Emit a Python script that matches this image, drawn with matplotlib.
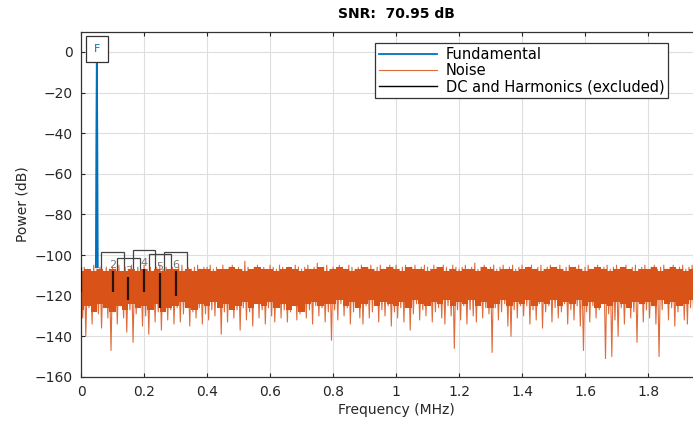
import numpy as np
import matplotlib
matplotlib.use("Agg")
import matplotlib.pyplot as plt

# noise spectrum, one value every 0.005 MHz (rows = 0.1 MHz)
noise_db = [
    -108, -131, -106, -140, -107, -126, -108, -134, -105, -124, -107, -129, -106, -136, -108, -123, -106, -131, -107, -147,
    -106, -128, -107, -134, -105, -125, -108, -131, -106, -138, -107, -127, -105, -143, -108, -129, -106, -124, -107, -135,
    -105, -130, -107, -139, -106, -126, -108, -133, -106, -128, -105, -137, -107, -125, -106, -132, -108, -127, -106, -134,
    -107, -126, -106, -133, -105, -129, -108, -124, -106, -135, -107, -128, -106, -131, -105, -126, -107, -134, -106, -129,
    -106, -132, -105, -127, -107, -130, -106, -124, -108, -139, -105, -128, -107, -133, -106, -125, -105, -131, -107, -127,
    -106, -137, -107, -126, -103, -132, -106, -128, -108, -135, -106, -124, -105, -131, -107, -127, -106, -134, -107, -126,
    -105, -130, -106, -133, -107, -125, -105, -131, -106, -127, -107, -133, -106, -128, -108, -124, -105, -132, -106, -129,
    -107, -124, -106, -131, -105, -127, -107, -134, -106, -125, -104, -130, -107, -126, -106, -133, -105, -128, -107, -142,
    -106, -127, -107, -132, -105, -124, -106, -130, -107, -126, -105, -134, -106, -128, -107, -125, -106, -131, -105, -134,
    -107, -125, -106, -131, -105, -128, -107, -124, -106, -133, -105, -127, -107, -130, -106, -125, -105, -135, -106, -128,
    -105, -131, -107, -126, -106, -133, -105, -125, -107, -137, -106, -129, -105, -124, -107, -132, -106, -127, -105, -130,
    -106, -124, -107, -133, -105, -128, -106, -126, -107, -131, -105, -134, -106, -125, -107, -130, -105, -146, -106, -127,
    -107, -132, -106, -125, -105, -134, -107, -127, -106, -130, -104, -133, -107, -124, -106, -131, -105, -126, -107, -129,
    -106, -148, -105, -126, -107, -132, -106, -128, -105, -124, -107, -135, -106, -140, -105, -127, -107, -131, -106, -125,
    -105, -130, -107, -125, -106, -134, -105, -127, -107, -132, -106, -124, -105, -136, -107, -128, -106, -125, -105, -133,
    -107, -126, -106, -131, -105, -128, -107, -124, -106, -134, -105, -127, -107, -132, -106, -125, -105, -135, -107, -147,
    -106, -128, -105, -133, -107, -125, -106, -131, -105, -127, -107, -124, -106, -151, -105, -129, -107, -150, -106, -132,
    -105, -140, -107, -126, -106, -134, -105, -125, -107, -131, -106, -128, -105, -143, -107, -124, -106, -133, -105, -127,
    -107, -131, -106, -125, -105, -134, -107, -150, -106, -127, -105, -124, -107, -132, -106, -126, -105, -135, -107, -128,
    -106, -125, -105, -132, -107, -134, -106, -126, -105, -131, -107, -124, -106, -133, -105, -127, -107, -130, -106, -128,
    -107,
]
noise_freq = np.arange(len(noise_db)) * 0.005

# solid core of the noise floor, every 0.02 MHz
band_top = [
    -108, -107, -108, -107, -108, -107, -108, -108, -107, -108,
    -107, -108, -107, -108, -107, -107, -108, -107, -108, -107,
    -107, -108, -107, -107, -106, -107, -108, -107, -106, -107,
    -107, -108, -107, -106, -107, -108, -107, -107, -106, -108,
    -107, -106, -107, -108, -107, -106, -107, -108, -107, -106,
    -107, -108, -106, -107, -107, -108, -107, -106, -108, -107,
    -108, -107, -107, -108, -106, -107, -108, -107, -107, -108,
    -107, -106, -107, -108, -107, -106, -107, -108, -106, -107,
    -108, -107, -106, -107, -108, -107, -106, -107, -108, -107,
    -107, -106, -108, -107, -106, -107, -108, -107, -106, -107,
    -107,
]
band_low = [
    -127, -125, -128, -124, -126, -128, -125, -127, -124, -126,
    -125, -127, -124, -128, -126, -125, -123, -126, -127, -124,
    -125, -123, -126, -124, -127, -125, -123, -126, -124, -125,
    -123, -126, -124, -127, -125, -128, -124, -123, -125, -124,
    -124, -122, -125, -123, -126, -124, -122, -125, -123, -124,
    -125, -123, -126, -122, -124, -125, -123, -124, -122, -125,
    -123, -124, -122, -125, -123, -126, -124, -122, -125, -123,
    -124, -122, -125, -123, -124, -122, -125, -123, -124, -122,
    -125, -123, -126, -124, -125, -123, -124, -126, -123, -124,
    -123, -125, -122, -124, -123, -125, -124, -122, -124, -123,
    -124,
]
band_freq = np.arange(len(band_top)) * 0.02

fund_freq = [0.047, 0.0485, 0.05, 0.0515, 0.053]
fund_db = [-106, -42, -1.5, -42, -106]

harm_freq = [0.0, 0.1, 0.15, 0.2, 0.25, 0.3]
harm_top = [-106, -108, -111, -107, -109, -108]
harm_low = [-118, -118, -122, -118, -126, -120]
harm_names = ["", "2", "3", "4", "5", "6"]

snr_db = 70.95

blue = "#0072BD"
orange = "#D95319"

plt.rcParams['font.family'] = ['DejaVu Sans']
fig = plt.figure(figsize=(6.93, 4.22), dpi=100)
ax = fig.add_axes([0.117, 0.107, 0.909, 0.818])

# harmonic labels sit under the noise
for f, top, name in zip(harm_freq, harm_top, harm_names):
    if name:
        ax.text(f, top + 3, name, ha='center', va='center', fontsize=8, color='#777777',
                zorder=1.5, bbox=dict(boxstyle='square,pad=0.7', fc='none', ec='#444444', lw=0.9))

ax.plot(fund_freq, fund_db, color=blue, lw=1.3, zorder=3, label='Fundamental')
ax.fill_between(band_freq, band_low, band_top, step='mid', color=orange, lw=0, zorder=2)
ax.plot(noise_freq, noise_db, color=orange, lw=0.8, alpha=0.85, zorder=2, label='Noise')
ax.vlines(harm_freq, harm_low, harm_top, color='#2a1208', lw=1.6, zorder=3)
ax.plot([], [], color='k', lw=1.0, label='DC and Harmonics (excluded)')

ax.text(fund_freq[2], fund_db[2] + 3, "F", ha='center', va='center', fontsize=8, color=blue,
        zorder=4, bbox=dict(boxstyle='square,pad=0.7', fc='white', ec='#333333', lw=0.9))

ax.set_xlim(0, 2)
ax.set_ylim(-160, 10)
ax.set_xticks(np.arange(0, 1.81, 0.2))
ax.set_xticklabels(["0", "0.2", "0.4", "0.6", "0.8", "1", "1.2", "1.4", "1.6", "1.8"])
ax.set_yticks(np.arange(-160, 1, 20))
ax.grid(True, color='#dedede', lw=0.8)
ax.set_axisbelow(True)
ax.tick_params(direction='in', top=True, right=True, labelsize=10, colors='#262626', length=3, pad=6)
for s in ax.spines.values():
    s.set_color('#333333')
    s.set_linewidth(0.9)

ax.set_title(f"SNR:  {snr_db:.2f} dB", fontsize=10, fontweight='bold', pad=10)
ax.set_xlabel("Frequency (MHz)", fontsize=10, color='#262626', labelpad=3)
ax.set_ylabel("Power (dB)", fontsize=10, color='#262626', labelpad=4)

leg = ax.legend(loc='upper left', bbox_to_anchor=(0.467, 0.967), borderaxespad=0,
                fontsize=10.5, handlelength=4.0, handletextpad=0.6, fancybox=False, framealpha=1,
                edgecolor='#333333', borderpad=0.25, labelspacing=0.1)
leg.get_frame().set_linewidth(0.9)

fig.savefig("out.png", dpi=100)
